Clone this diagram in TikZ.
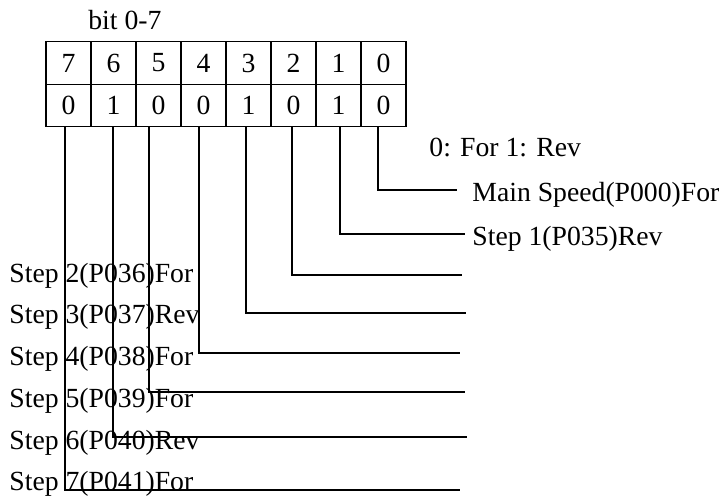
\documentclass[tikz,border=0pt]{standalone}
\usepackage{fontspec}
\setmainfont{Liberation Serif}
\usepackage{tikz}
\usetikzlibrary{positioning, calc}

\begin{document}
\begin{tikzpicture}[
    x=0.5pt, y=-0.5pt,
    txt/.style={font=\fontsize{13.85pt}{16pt}\selectfont, inner sep=0pt},
    cell/.style={txt, draw, line width=0.6pt, minimum width=22.5pt, minimum height=21.25pt},
    lbl/.style={txt, anchor=base west},
    link/.style={line width=0.6pt}
]
    \useasboundingbox (0,0) rectangle (724,497);

    \node (title) [lbl] at (88,30) {bit 0-7};

    % bit number row and value row
    \foreach \b/\v [count=\k from 0] in {7/0,6/1,5/0,4/0,3/1,2/0,1/1,0/0} {
        \node (t\b) [cell] at (68.5+45*\k,63) {\b};
        \node (v\b) [cell] at (68.5+45*\k,105.5) {\v};
    }

    \node (legend) [lbl] at (429,157) {0: For 1: Rev};

    % corners and free ends of the connectors
    \foreach \b/\cx/\cy/\ex in {0/378/190/457, 1/340/234/465, 2/292/275/462, 3/246/313/466,
                                4/199/353/460, 5/149/392/465, 6/113/437/467, 7/65/490/460} {
        \coordinate (c\b) at (\cx,\cy);
        \coordinate (e\b) at (\ex,\cy);
    }

    \node (s0) [lbl] at (472,202) {Main Speed(P000)For};
    \node (s1) [lbl] at (472,246) {Step 1(P035)Rev};
    \node (s2) [lbl] at (9,283) {Step 2(P036)For};
    \node (s3) [lbl] at (9,324) {Step 3(P037)Rev};
    \node (s4) [lbl] at (9,366) {Step 4(P038)For};
    \node (s5) [lbl] at (9,408) {Step 5(P039)For};
    \node (s6) [lbl] at (9,450) {Step 6(P040)Rev};
    \node (s7) [lbl] at (9,491) {Step 7(P041)For};

    \foreach \b in {0,...,7}
        \draw [link] (v\b.south -| c\b) -- (c\b) -- (e\b);
\end{tikzpicture}
\end{document}
